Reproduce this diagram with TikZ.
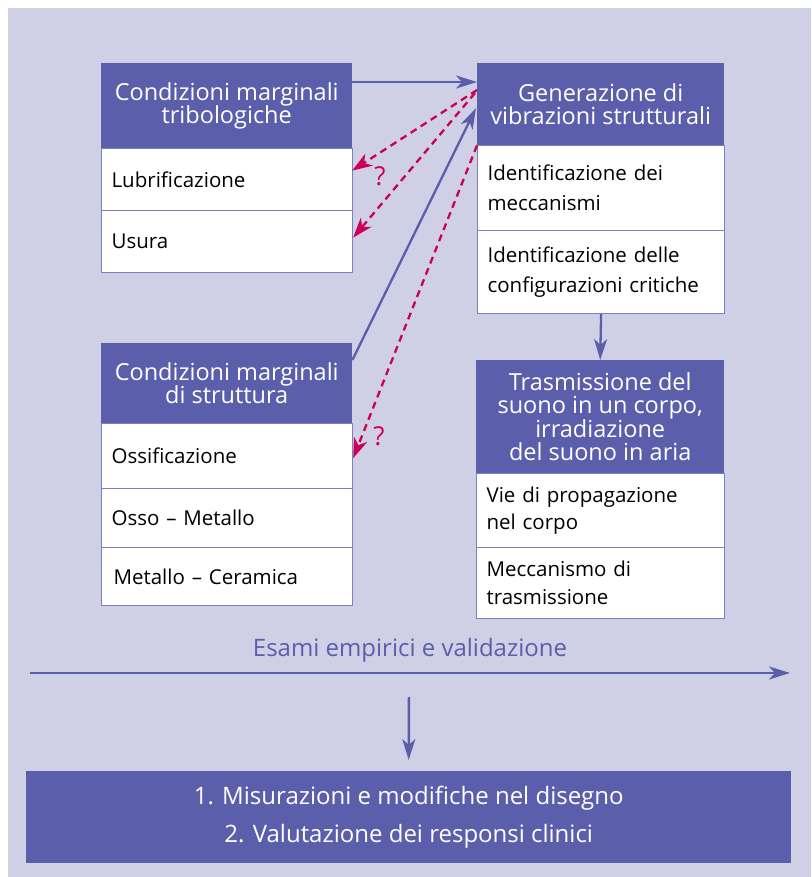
\documentclass[tikz,border=0pt]{standalone}
\usepackage{fontspec}
\setmainfont{Open Sans}
\usetikzlibrary{arrows.meta}
\definecolor{bgc}{HTML}{CFCFE6}
\definecolor{hdrc}{HTML}{5A5EAB}
\definecolor{bordc}{HTML}{7B7FC4}
\definecolor{redc}{HTML}{CC0055}
\tikzset{
  hdr/.style={fill=hdrc, text=white, anchor=north west, inner sep=0pt, align=center, font=\fontsize{23.5}{23.5}\selectfont},
  rowbox/.style={fill=white, draw=bordc, line width=1.2pt, anchor=north west, inner xsep=10pt, inner ysep=0pt, align=left, font=\fontsize{20.5}{30}\selectfont},
  bluearrow/.style={draw=hdrc, line width=2.3pt, -{Stealth[length=21pt,width=13pt,inset=6pt]}},
  redarrow/.style={draw=redc, line width=2.3pt, dash pattern=on 7pt off 5pt, -{Stealth[length=20pt,width=14pt,inset=6pt]}},
  qmark/.style={text=redc, font=\fontsize{26}{26}\selectfont},
}
\begin{document}
\begin{tikzpicture}[x=1pt,y=-1pt]
\useasboundingbox (0,0) rectangle (811,877);
\fill[bgc] (8,8) rectangle (811,877);

% Box 1
\node[hdr, minimum width=251pt, minimum height=85pt] (h1) at (101,63) {Condizioni marginali\\tribologiche};
\node[rowbox, minimum width=251pt, minimum height=62pt, text width=231pt] (r11) at (101,148) {Lubrificazione};
\node[rowbox, minimum width=251pt, minimum height=62pt, text width=231pt] (r12) at (101,210) {Usura};

% Box 4
\node[hdr, minimum width=251pt, minimum height=80pt] (h4) at (101,343) {Condizioni marginali\\di struttura};
\node[rowbox, minimum width=251pt, minimum height=65pt, text width=231pt] (r41) at (101,423) {Ossificazione};
\node[rowbox, minimum width=251pt, minimum height=59pt, text width=231pt] (r42) at (101,488) {Osso – Metallo};
\node[rowbox, minimum width=251pt, minimum height=58pt, text width=231pt] (r43) at (101,547) {\hspace*{2pt}Metallo – Ceramica};

% Box 2
\node[hdr, minimum width=247pt, minimum height=82pt] (g1) at (477,63) {Generazione di\\vibrazioni strutturali};
\node[rowbox, minimum width=247pt, minimum height=85pt, text width=227pt] (g2) at (477,145) {Identificazione dei\\meccanismi};
\node[rowbox, minimum width=247pt, minimum height=83pt, text width=227pt] (g3) at (477,230) {Identificazione delle\\configurazioni critiche};

% Box 3
\node[hdr, minimum width=248pt, minimum height=113pt] (t1) at (476,360) {Trasmissione del\\suono in un corpo,\\irradiazione\\del suono in aria};
\node[rowbox, minimum width=248pt, minimum height=74pt, text width=228pt, font=\fontsize{20.5}{27}\selectfont] (t2) at (476,473) {Vie di propagazione\\nel corpo};
\node[rowbox, minimum width=248pt, minimum height=71pt, text width=228pt, font=\fontsize{20.5}{28}\selectfont] (t3) at (476,547) {Meccanismo di\\trasmissione};

% Bottom box
\node[hdr, minimum width=765pt, minimum height=92pt, font=\fontsize{24}{38}\selectfont] (bot) at (26,771) {1. Misurazioni e modifiche nel disegno\\2. Valutazione dei responsi clinici};

% Label and long arrow
\node[text=hdrc, font=\fontsize{24}{24}\selectfont] (lab) at (410,650) {Esami empirici e validazione};
\coordinate (a0) at (30,673);
\coordinate (a1) at (790,673);
\draw[bluearrow, line width=2.7pt] (a0) -- (a1);
\coordinate (v0) at (409,697);
\draw[bluearrow, line width=2.5pt] (v0) -- ([yshift=11pt]bot.north);

% Connectors
\draw[bluearrow] ([yshift=-19pt]h1.north east) -- ([yshift=-19pt]g1.north west);
\draw[bluearrow] ([yshift=-17pt]h4.north east) -- ([yshift=-45pt,xshift=-1pt]g1.north west);
\draw[bluearrow] (g3.south) -- (t1.north);

\draw[redarrow] ([yshift=-27pt]g1.north west) -- ([yshift=9pt,xshift=-1pt]r11.east);
\draw[redarrow] ([yshift=-30pt,xshift=-2pt]g1.north west) -- ([yshift=4pt]r12.east);
\draw[redarrow] (g1.south west) -- ([yshift=-2pt]r41.east);

\node[qmark] (q1) at (380,176) {?};
\node[qmark] (q2) at (379,436) {?};
\end{tikzpicture}
\end{document}
